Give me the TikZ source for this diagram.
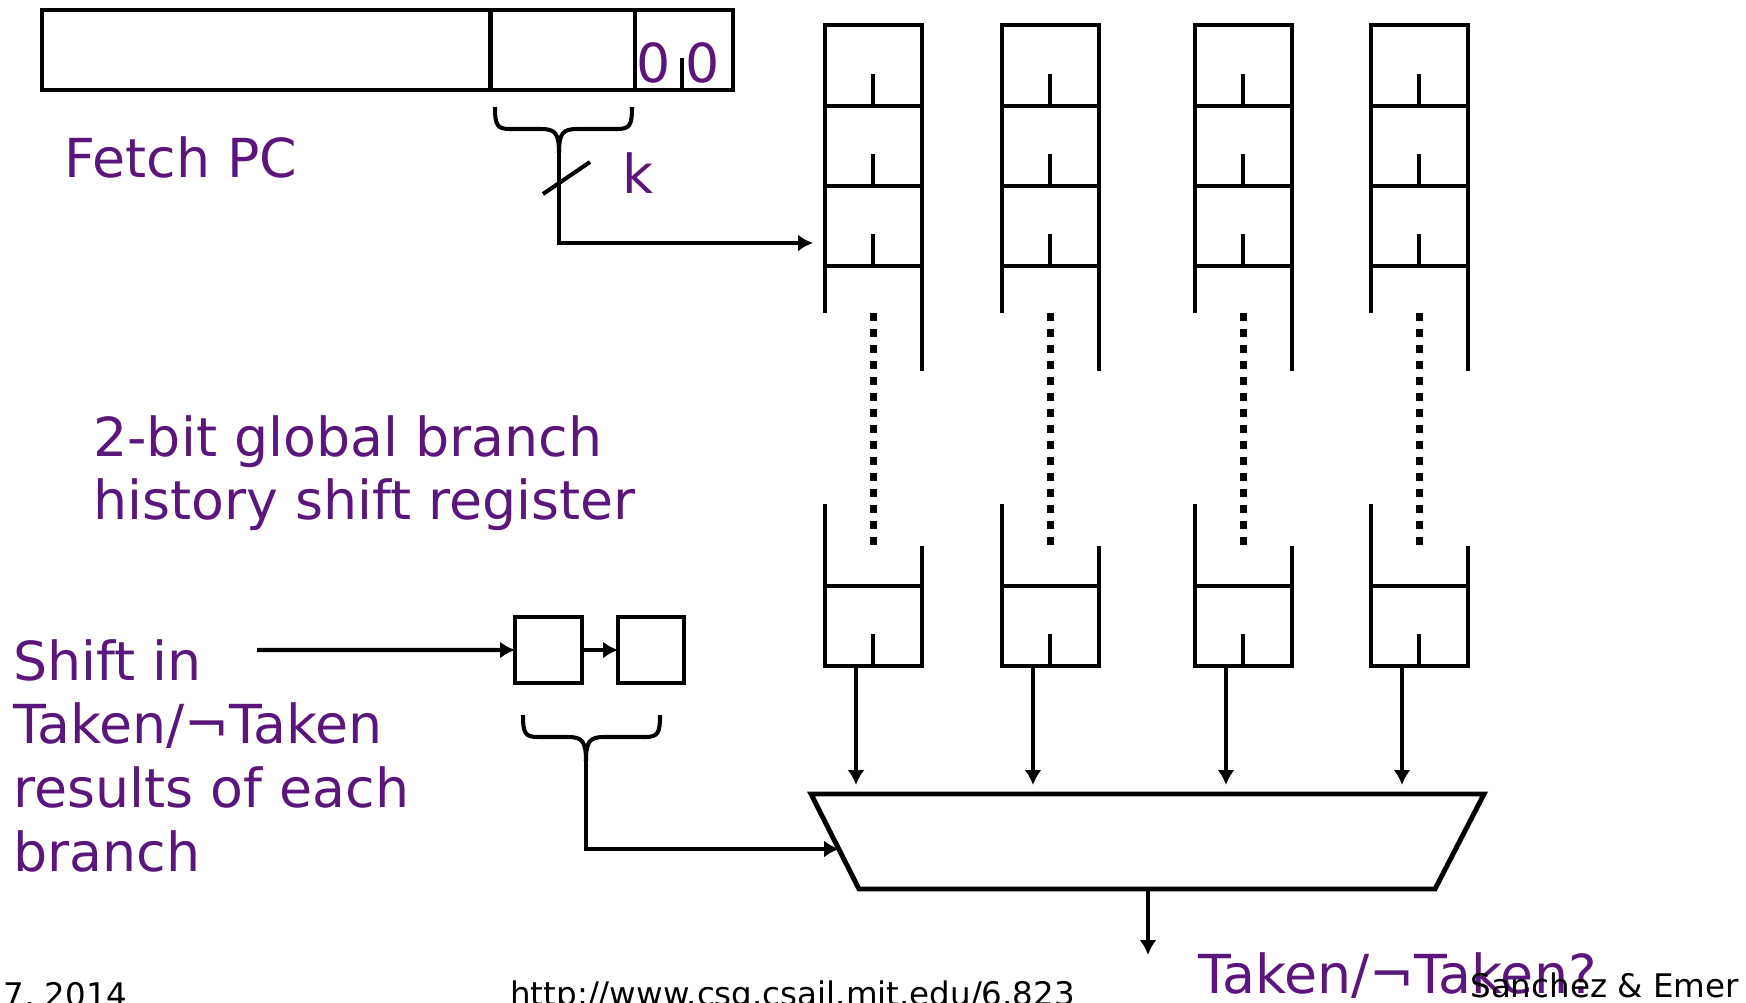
\documentclass[tikz,border=0pt]{standalone}
\usepackage{fontspec}
\setmainfont{DejaVu Sans}
\usetikzlibrary{arrows.meta}
\definecolor{slidepurple}{RGB}{90,22,122}
\tikzset{
  wire/.style={line width=2.3pt},
  heavy/.style={line width=2.8pt},
  flow/.style={line width=2.3pt,-{Latex[length=0.3cm,width=0.34cm]}},
  gapline/.style={line width=4pt,dash pattern=on 0.16cm off 0.16cm},
  cellbox/.style={draw,heavy,inner sep=0pt,outer sep=0pt,anchor=north west},
  purpletext/.style={inner sep=0pt,anchor=base west,text=slidepurple,font=\fontsize{30.6}{36.4}\selectfont},
  footer/.style={inner sep=0pt,anchor=base west,font=\fontsize{18.5}{22}\selectfont},
}
\newcommand{\busbrace}[4]{%
  \draw[wire] (#1,#3) .. controls (#1,#3+18) and (#1+2,#3+22) .. (#1+15,#3+22) -- (#4-18,#3+22) .. controls (#4-4,#3+22) and (#4,#3+26) .. (#4,#3+46);
  \draw[wire] (#2,#3) .. controls (#2,#3+18) and (#2-2,#3+22) .. (#2-15,#3+22) -- (#4+18,#3+22) .. controls (#4+4,#3+22) and (#4,#3+26) .. (#4,#3+46);}
\begin{document}
\begin{tikzpicture}[x=0.02cm,y=-0.02cm]
\useasboundingbox (0,0) rectangle (1746,1002);
\node[cellbox,minimum width=8.98cm,minimum height=1.6cm] (pchigh) at (42,10) {};
\node[cellbox,minimum width=2.88cm,minimum height=1.6cm] (pcindex) at (491,10) {};
\node[cellbox,minimum width=1.96cm,minimum height=1.6cm] (pclow) at (635,10) {};
\draw[heavy] (682,58) -- (pclow.south -| 682,0);
\node[purpletext] (zeroa) at (636,82) {0};
\node[purpletext] (zerob) at (685,82) {0};
\node[purpletext] (fetchpc) at (64,177) {Fetch PC};
\busbrace{495}{632}{107}{559}
\coordinate (idxtip) at (559,153);
\coordinate (rowsel) at (813,243);
\draw[flow] (idxtip) |- (rowsel);
\draw[wire] (543,194) -- (590,162);
\node[purpletext] (ksize) at (622,193) {k};
\foreach \L [count=\i] in {825,1002,1195,1371} {
  \pgfmathsetmacro{\C}{\L+48}
  \pgfmathsetmacro{\R}{\L+97}
  \draw[heavy] (\L,313) -- (\L,25) -- (\R,25) -- (\R,371);
  \foreach \y in {106,186,266} \draw[heavy] (\L,\y) -- (\R,\y) (\C,\y-32) -- (\C,\y);
  \draw[gapline] (\C,313) -- (\C,545);
  \draw[heavy] (\L,504) -- (\L,666) -- (\R,666) -- (\R,546) (\L,586) -- (\R,586) (\C,634) -- (\C,666);
  \coordinate (bank\i) at (\C-17,666);
  \coordinate (sel\i) at (\C-17,785);
  \draw[flow] (bank\i) -- (sel\i);
}
\draw[heavy] (811,794) -- (1484,794) -- (1435,889) -- (859,889) -- cycle;
\coordinate (muxin) at (839,849);
\coordinate (muxout) at (1148,889);
\coordinate (result) at (1148,955);
\draw[flow] (muxout) -- (result);
\node[purpletext] (ghrlabel) at (93,456) {\begin{tabular}[t]{@{}l@{}}2-bit global branch\\history shift register\end{tabular}};
\node[cellbox,minimum width=1.34cm,minimum height=1.32cm] (hist1) at (515,617) {};
\node[cellbox,minimum width=1.32cm,minimum height=1.32cm] (hist2) at (618,617) {};
\coordinate (shiftin) at (257,650);
\draw[flow] (shiftin) -- (hist1.west);
\draw[flow] (hist1.east) -- (hist2.west);
\busbrace{523}{660}{715}{586}
\coordinate (histtip) at (586,761);
\draw[flow] (histtip) |- (muxin);
\node[purpletext] (shiftlabel) at (13,680) {\begin{tabular}[t]{@{}l@{}}Shift in\\Taken/¬Taken\\results of each\\branch\end{tabular}};
\node[purpletext] (outlabel) at (1198,993) {Taken/¬Taken?};
\node[footer] (date) at (3,1006) {7, 2014};
\node[footer] (url) at (510,1005) {http://www.csg.csail.mit.edu/6.823};
\node[footer] (authors) at (1470,997) {Sanchez \& Emer};
\end{tikzpicture}
\end{document}
